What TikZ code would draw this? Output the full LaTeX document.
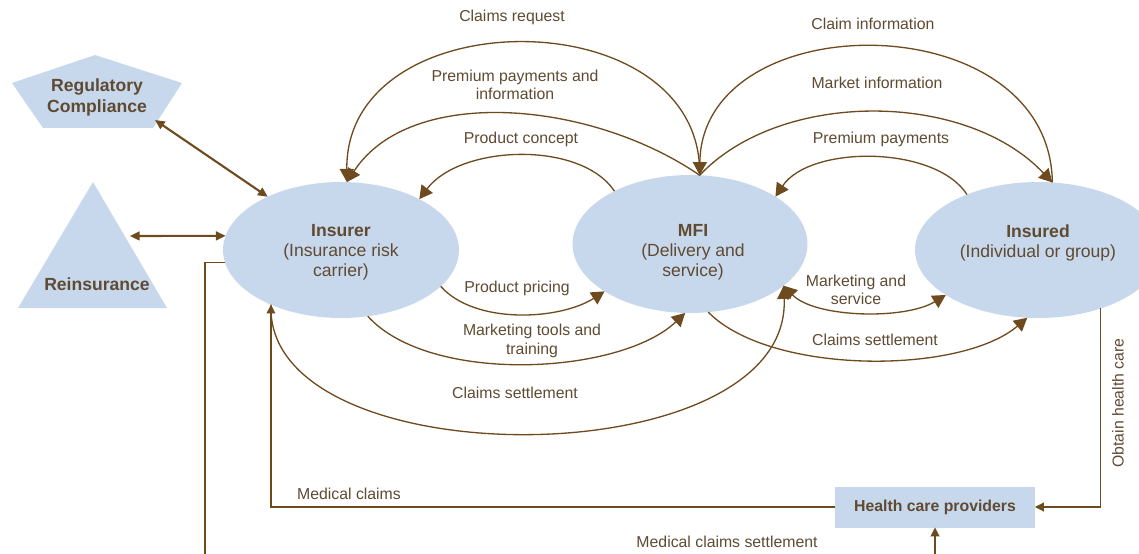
\documentclass[tikz,border=0pt]{standalone}
\usepackage{fontspec}
\setmainfont{Liberation Sans}
\usetikzlibrary{arrows.meta,shapes.geometric}

\definecolor{flowbrown}{HTML}{6E4A1F}
\definecolor{labelbrown}{HTML}{5F4A32}
\definecolor{partyblue}{HTML}{C8D8EC}

\tikzset{
  party/.style={ellipse, fill=partyblue, inner sep=0pt, outer sep=0pt},
  partytext/.style={align=center, text=labelbrown, font=\fontsize{10}{11.5}\selectfont},
  headtext/.style={align=center, text=labelbrown, font=\bfseries\fontsize{10}{12}\selectfont},
  flowlabel/.style={align=center, text=labelbrown, font=\fontsize{9}{10.5}\selectfont},
  flow/.style={draw=flowbrown, line width=0.75pt, -{Triangle[length=7.5pt,width=8pt]}},
  bothflow/.style={flow, {Triangle[length=7.5pt,width=8pt]}-{Triangle[length=7.5pt,width=8pt]}},
  link/.style={draw=flowbrown, line width=0.6pt, -{Triangle[length=5pt,width=5pt]}},
  twoway/.style={draw=flowbrown, line width=1.2pt, {Triangle[length=5.5pt,width=5pt]}-{Triangle[length=5.5pt,width=5pt]}}
}

\begin{document}
\begin{tikzpicture}[x=0.02cm, y=-0.02cm]
\useasboundingbox (0,0) rectangle (1139,554);
\clip (0,0) rectangle (1139,554);

\fill[partyblue] (95,55) -- (182,83) -- (153,128) -- (43,128) -- (12,83) -- cycle;
\node[headtext] (reg) at (97,97) {Regulatory\\Compliance};
\fill[partyblue] (93,182) -- (167,308) -- (18,308) -- cycle;
\node[headtext] (rein) at (97,284) {Reinsurance};
\coordinate (reg-end) at (155,120);
\coordinate (rein-end) at (130,236);

\node[party, minimum width=4.72cm, minimum height=2.72cm] (insurer) at (341,250) {};
\node[party, minimum width=4.7cm, minimum height=2.76cm] (mfi) at (690,244) {};
\node[party, minimum width=4.92cm, minimum height=2.72cm] (insured) at (1038,250) {};
\node[partytext] (insurer-text) at (341,252) {\textbf{Insurer}\\(Insurance risk\\carrier)};
\node[partytext] (mfi-text) at (693,252) {\textbf{MFI}\\(Delivery and\\service)};
\node[partytext] (insured-text) at (1038,243) {\textbf{Insured}\\(Individual or group)};
\node[fill=partyblue, minimum width=4cm, minimum height=0.82cm, inner sep=0pt, outer sep=0pt,
      text=labelbrown, font=\bfseries\fontsize{9}{11}\selectfont] (hcp) at (935,507) {Health care providers};

\draw[twoway] (reg-end) -- (insurer.144);
\draw[twoway] (rein-end) -- (insurer.173);

\draw[flow] (mfi.82) .. controls (703,-2) and (345,-2) .. (insurer.85);
\draw[flow] (mfi.82) .. controls (590,100) and (410,85) .. (insurer.85);
\draw[flow] (mfi.145) .. controls (580,140) and (460,145) .. (insurer.33);
\draw[flow] (insured.78) .. controls (1050,3) and (702,3) .. (mfi.82);
\draw[flow] (mfi.82) .. controls (780,90) and (965,90) .. (insured.78);
\draw[flow] (insured.142) .. controls (935,145) and (810,145) .. (mfi.29);
\draw[flow] (insurer.340) .. controls (475,325) and (560,320) .. (mfi.209);
\draw[flow] (insurer.292) .. controls (430,385) and (620,375) .. (mfi.266);
\draw[flow] (insurer.218) .. controls (264,480) and (792,478) .. (mfi.336);
\draw[bothflow] (mfi.336) .. controls (815,318) and (905,320) .. (insured.206);
\draw[flow] (mfi.285) .. controls (770,375) and (960,375) .. (insured.261);

\draw[link] (insured.-43) |- (hcp.east);
\draw[link] (hcp.west) -| (insurer.218);
\coordinate (settle-corner) at (205,580);
\draw[link] (insurer.186) -| (settle-corner) -| (hcp.south);

\node[flowlabel] (l-request) at (512,17) {Claims request};
\node[flowlabel] (l-premium-info) at (515,85) {Premium payments and\\information};
\node[flowlabel] (l-concept) at (521,139) {Product concept};
\node[flowlabel] (l-claim-info) at (873,24) {Claim information};
\node[flowlabel] (l-market) at (877,83) {Market information};
\node[flowlabel] (l-premium) at (881,139) {Premium payments};
\node[flowlabel] (l-pricing) at (517,288) {Product pricing};
\node[flowlabel] (l-tools) at (532,341) {Marketing tools and\\training};
\node[flowlabel] (l-settle-mfi) at (515,393) {Claims settlement};
\node[flowlabel] (l-mkt-service) at (856,290) {Marketing and\\service};
\node[flowlabel] (l-settle-insured) at (875,340) {Claims settlement};
\node[flowlabel, rotate=90] (l-obtain) at (1118,403) {Obtain health care};
\node[flowlabel] (l-medical) at (349,494) {Medical claims};
\node[flowlabel] (l-med-settle) at (727,542) {Medical claims settlement};
\end{tikzpicture}
\end{document}
